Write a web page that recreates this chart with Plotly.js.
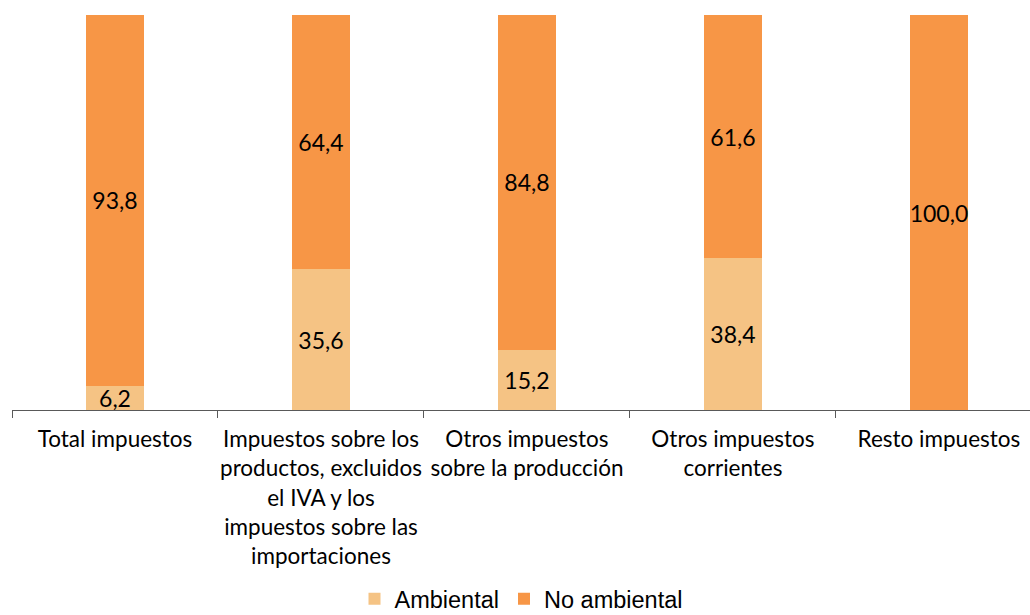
<!DOCTYPE html>
<html>
<head>
<meta charset="utf-8">
<script src="https://cdn.plot.ly/plotly-3.0.1.min.js"></script>
<style>html,body{margin:0;padding:0;background:#fff;}#chart{width:1030px;height:615px;}</style>
</head>
<body>
<div id="chart"></div>
<script>
const categories = [
  "Total impuestos",
  "Impuestos sobre los<br>productos, excluidos<br>el IVA y los<br>impuestos sobre las<br>importaciones",
  "Otros impuestos<br>sobre la producción",
  "Otros impuestos<br>corrientes",
  "Resto impuestos"
];
const ambiental = [6.2, 35.6, 15.2, 38.4, 0.0];
const noAmbiental = [93.8, 64.4, 84.8, 61.6, 100.0];

function labels(vals) {
  return vals.map(v => v === 0 ? "" : v.toFixed(1).replace(".", ","));
}

const labelFont = {family: "Lato, 'Open Sans', sans-serif", size: 23, color: "#000"};

const traces = [
  {
    type: "bar", name: "Ambiental", x: categories, y: ambiental,
    text: labels(ambiental), textposition: "inside", insidetextanchor: "middle",
    textfont: labelFont, constraintext: "none", textangle: 0,
    marker: {color: "#F5C384"}, hoverinfo: "none"
  },
  {
    type: "bar", name: "No ambiental", x: categories, y: noAmbiental,
    text: labels(noAmbiental), textposition: "inside", insidetextanchor: "middle",
    textfont: labelFont, constraintext: "none", textangle: 0,
    marker: {color: "#F79646"}, hoverinfo: "none"
  }
];

const layout = {
  width: 1030, height: 615,
  margin: {l: 12, r: 0, t: 15, b: 205},
  barmode: "stack",
  bargap: 0.714,
  showlegend: true,
  uniformtext: {mode: "show", minsize: 23},
  paper_bgcolor: "#fff", plot_bgcolor: "#fff",
  xaxis: {
    type: "category",
    range: [-0.5, 4.442],
    showline: true, linecolor: "#595959", linewidth: 1,
    ticks: "outside", tickson: "boundaries", ticklen: 7, tickcolor: "#595959",
    ticklabelstandoff: 9,
    tickfont: {family: "Lato, 'Open Sans', sans-serif", size: 22.5, color: "#000"},
    tickangle: 0, fixedrange: true, automargin: false
  },
  yaxis: {
    range: [0, 100], visible: false, showgrid: false, zeroline: false, fixedrange: true
  },
  legend: {
    orientation: "h", x: 0.5, xanchor: "center",
    yref: "container", y: 0.062, yanchor: "top",
    font: {family: "'Liberation Sans', Arial, sans-serif", size: 23.5, color: "#000"},
    itemwidth: 30, traceorder: "normal"
  }
};

Plotly.newPlot("chart", traces, layout, {displayModeBar: false, staticPlot: true});
</script>
</body>
</html>
